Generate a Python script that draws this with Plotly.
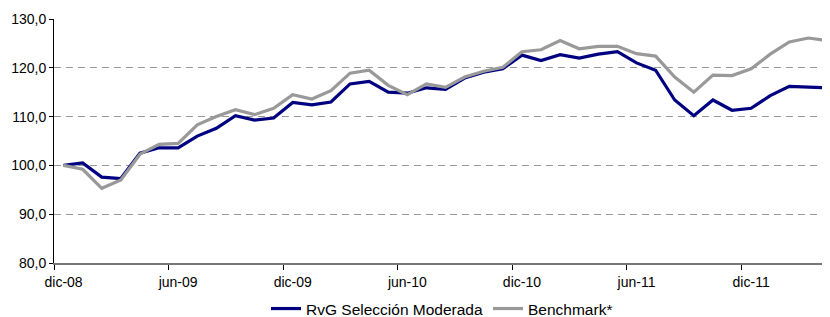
import plotly.graph_objects as go

months = [
    "dic-08", "ene-09", "feb-09", "mar-09", "abr-09", "may-09", "jun-09", "jul-09", "ago-09", "sep-09", "oct-09", "nov-09",
    "dic-09", "ene-10", "feb-10", "mar-10", "abr-10", "may-10", "jun-10", "jul-10", "ago-10", "sep-10", "oct-10", "nov-10",
    "dic-10", "ene-11", "feb-11", "mar-11", "abr-11", "may-11", "jun-11", "jul-11", "ago-11", "sep-11", "oct-11", "nov-11",
    "dic-11", "ene-12", "feb-12", "mar-12", "abr-12",
]

fund = [100.0, 100.5, 97.6, 97.3, 102.5, 103.6, 103.6, 106.0, 107.6, 110.2, 109.3, 109.7,
        112.9, 112.4, 113.0, 116.7, 117.2, 115.0, 114.8, 115.9, 115.6, 117.9, 119.1, 119.8,
        122.6, 121.5, 122.7, 122.0, 122.8, 123.3, 121.0, 119.5, 113.4, 110.2, 113.4, 111.3,
        111.7, 114.3, 116.2, 116.1, 115.9]

bench = [100.0, 99.2, 95.3, 97.0, 102.3, 104.3, 104.5, 108.3, 110.0, 111.4, 110.4, 111.7,
         114.5, 113.6, 115.3, 118.9, 119.5, 116.4, 114.5, 116.7, 116.0, 118.1, 119.3, 120.1,
         123.3, 123.7, 125.6, 123.9, 124.4, 124.4, 122.9, 122.4, 118.1, 115.0, 118.5, 118.4,
         119.8, 122.8, 125.3, 126.1, 125.6]

tick_labels = ["dic-08", "jun-09", "dic-09", "jun-10", "dic-10", "jun-11", "dic-11"]

x = list(range(len(months)))
tick_idx = [months.index(t) for t in tick_labels]

fig = go.Figure()
fig.add_trace(go.Scatter(x=x, y=fund, mode="lines", name="RvG Selección Moderada",
                         line=dict(color="#000080", width=3.2)))
fig.add_trace(go.Scatter(x=x, y=bench, mode="lines", name="Benchmark*",
                         line=dict(color="#999999", width=3.2)))

# the page body adds an 8px offset, so the figure is 8px smaller on each axis
fig.update_layout(
    width=822, height=309,
    margin=dict(l=46, r=0, t=11, b=54),
    paper_bgcolor="white", plot_bgcolor="white",
    font=dict(family="Liberation Sans, Arial", size=14, color="black"),
    separators=",.",
    showlegend=True,
    legend=dict(orientation="h", x=0.5, xanchor="center", xref="paper",
                yref="container", y=0.026, yanchor="middle",
                font=dict(size=15.5), itemwidth=30, bgcolor="rgba(0,0,0,0)"),
)

fig.update_xaxes(
    range=[-0.5, 40.13], tickmode="array", tickvals=tick_idx, ticktext=tick_labels,
    ticks="outside", ticklen=5, tickcolor="rgba(0,0,0,0)", automargin=False,
    showgrid=False, showline=True, linecolor="#777777", linewidth=2, zeroline=False,
    minor=dict(tick0=-0.5, dtick=6, ticks="outside", ticklen=5, tickcolor="black",
               tickwidth=1, showgrid=False),
)
fig.update_yaxes(
    range=[80, 130], dtick=10, tickformat=".1f", automargin=False,
    ticks="outside", ticklen=4, tickcolor="black",
    showline=True, linecolor="black", linewidth=1,
    showgrid=True, gridcolor="#999999", griddash="7px,5px", zeroline=False,
)

fig.write_html("out.html")
